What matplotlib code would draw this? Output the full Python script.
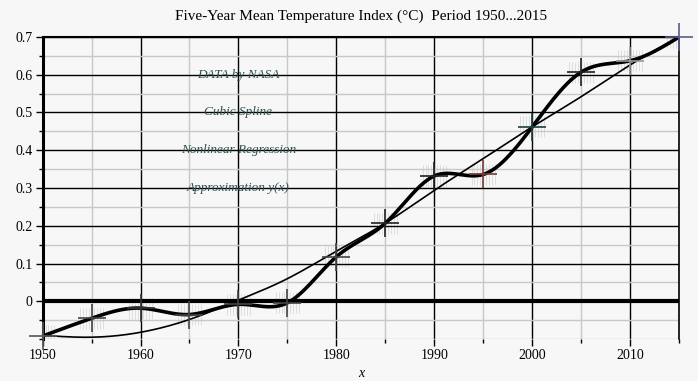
import numpy as np
import matplotlib.pyplot as plt
from matplotlib.ticker import MultipleLocator

# Five-year means (NASA)
years = [1950, 1955, 1960, 1965, 1970, 1975, 1980, 1985, 1990, 1995, 2000, 2005, 2010, 2015]
temps = [-0.092, -0.045, -0.018, -0.035, -0.008, -0.004, 0.118, 0.207, 0.332, 0.336, 0.462, 0.607, 0.637, 0.700]

# Nonlinear regression curve, read at the same years
regression = [-0.090, -0.095, -0.082, -0.048, 0.003, 0.060, 0.133, 0.207, 0.294, 0.378, 0.462, 0.542, 0.626, 0.700]

marker_colors = ['#555555', '#444444', '#333333', '#444444', '#444444', '#444444', '#444444',
                 '#222222', '#222222', '#7a3a3a', '#1f3f3f', '#222222', '#999999', '#5a5a8a']

labels = ['DATA by NASA', 'Cubic Spline', 'Nonlinear Regression', 'Approximation y(x)']
label_y = [0.6, 0.5, 0.4, 0.3]


def natural_spline(x, y, xs):
    # natural cubic spline through the points
    x = np.asarray(x, float)
    y = np.asarray(y, float)
    n = len(x)
    h = np.diff(x)
    A = np.zeros((n, n))
    b = np.zeros(n)
    A[0, 0] = A[-1, -1] = 1
    for i in range(1, n - 1):
        A[i, i - 1] = h[i - 1]
        A[i, i] = 2 * (h[i - 1] + h[i])
        A[i, i + 1] = h[i]
        b[i] = 3 * ((y[i + 1] - y[i]) / h[i] - (y[i] - y[i - 1]) / h[i - 1])
    c = np.linalg.solve(A, b)
    out = np.empty_like(xs)
    for k, t in enumerate(xs):
        i = min(max(np.searchsorted(x, t, side='right') - 1, 0), n - 2)
        bi = (y[i + 1] - y[i]) / h[i] - h[i] * (2 * c[i] + c[i + 1]) / 3
        di = (c[i + 1] - c[i]) / (3 * h[i])
        dx = t - x[i]
        out[k] = y[i] + bi * dx + c[i] * dx ** 2 + di * dx ** 3
    return out


plt.rcParams['font.family'] = ['Liberation Serif', 'DejaVu Serif']
bg = '#f7f7f7'
fig = plt.figure(figsize=(6.98, 3.81), dpi=100, facecolor=bg)
ax = fig.add_axes([0.061, 0.11, 0.912, 0.793])
ax.set_facecolor(bg)

ax.set_xlim(1950, 2015)
ax.set_ylim(-0.1, 0.7)

ax.xaxis.set_major_locator(MultipleLocator(10))
ax.xaxis.set_minor_locator(MultipleLocator(5))
ax.yaxis.set_major_locator(MultipleLocator(0.1))
ax.yaxis.set_minor_locator(MultipleLocator(0.05))
ax.grid(which='minor', color='#c8c8c8', lw=1.0, zorder=0)
ax.grid(which='major', color='black', lw=1.0, zorder=0.5)
ax.set_yticks([0, 0.1, 0.2, 0.3, 0.4, 0.5, 0.6, 0.7])
ax.set_yticklabels(['0', '0.1', '0.2', '0.3', '0.4', '0.5', '0.6', '0.7'])

ax.tick_params(which='major', direction='out', length=5, width=1, labelsize=10, pad=2)
ax.tick_params(which='minor', direction='out', length=3, width=1)
ax.spines['bottom'].set_visible(False)
ax.spines['left'].set_linewidth(2.2)
ax.spines['top'].set_linewidth(1.5)
ax.spines['right'].set_linewidth(1.2)

ax.axhline(0, color='black', lw=3, zorder=2)

# faint vertical hatching around each data point
offs = np.arange(-1.2, 1.25, 0.3)
for xv, yv in zip(years, temps):
    ax.vlines(xv + offs, yv - 0.028, yv + 0.028, color='#dddddd', lw=0.7, zorder=1)

xs = np.linspace(years[0], years[-1], 600)
ax.plot(xs, natural_spline(years, regression, xs), color='black', lw=1.2, zorder=3)
ax.plot(xs, natural_spline(years, temps, xs), color='black', lw=2.6, zorder=4)

for xv, yv, mc in zip(years, temps, marker_colors):
    ax.plot(xv, yv, marker='+', ms=20, mew=1.2, color=mc, zorder=5, clip_on=False)

for t, yv in zip(labels, label_y):
    ax.text(1970, yv, t, ha='center', va='center', style='italic', fontsize=9.5, color='#2f4f4f', zorder=6)

ax.set_xlabel('x', style='italic', fontsize=10, labelpad=4)
ax.set_title('Five-Year Mean Temperature Index (°C)  Period 1950...2015', fontsize=11, pad=12)

fig.savefig('out.png', dpi=100, facecolor=bg)
